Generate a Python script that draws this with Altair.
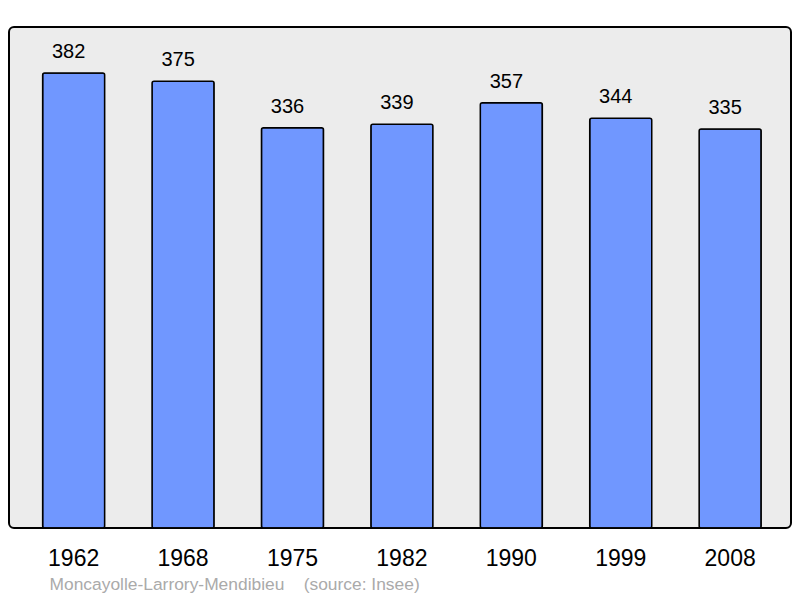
import altair as alt
import pandas as pd

years = ["1962", "1968", "1975", "1982", "1990", "1999", "2008"]
population = [382, 375, 336, 339, 357, 344, 335]
source_text = "Moncayolle-Larrory-Mendibieu\u00a0\u00a0\u00a0\u00a0(source: Insee)"

df = pd.DataFrame({"year": years, "pop": population})

x = alt.X("year:N", sort=years,
          scale=alt.Scale(paddingInner=0.433, paddingOuter=0.29, align=0.53),
          axis=alt.Axis(title=source_text, labelAngle=0, ticks=False, domain=False,
                        labelFont="Liberation Sans", labelFontSize=23, labelColor="#000000",
                        labelPadding=37, labelBaseline="alphabetic",
                        titleFont="Liberation Sans", titleFontSize=17.4, titleFontWeight="normal",
                        titleColor="#aaaaaa", titleX=40, titleY=61, titleAlign="left",
                        titleAnchor="start", titleBaseline="alphabetic", grid=False))
y = alt.Y("pop:Q", scale=alt.Scale(domain=[0, 420.6], nice=False), axis=None)

bars = alt.Chart(df).mark_bar(color="#7097ff", stroke="#000000", strokeWidth=1.5,
                              cornerRadius=2).encode(x=x, y=y)
labels = alt.Chart(df).mark_text(font="Liberation Sans", fontSize=20, baseline="alphabetic",
                                 dy=-15, dx=-5, color="#000000").encode(x=x, y=y, text="pop:Q")

chart = alt.layer(bars, labels).properties(
    width=782, height=501,
    autosize=alt.AutoSizeParams(type="none"),
    padding={"left": 1, "top": 19, "right": 1, "bottom": 70},
    background="#ffffff",
).configure_view(fill="#ececec", stroke="#000000", strokeWidth=2, cornerRadius=5)

chart.save("out.html", embed_options={"renderer": "svg", "actions": False})
